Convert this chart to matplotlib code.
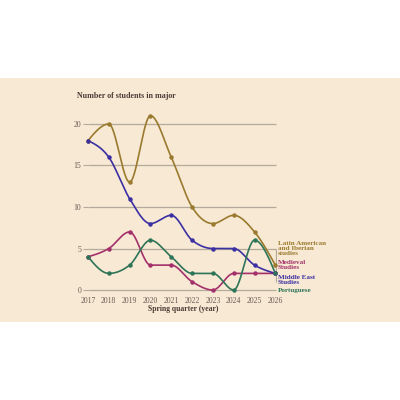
import numpy as np
import matplotlib.pyplot as plt

years = np.arange(2017, 2027)
latin_american = [18, 20, 13, 21, 16, 10, 8, 9, 7, 3]
middle_east = [18, 16, 11, 8, 9, 6, 5, 5, 3, 2]
medieval = [4, 5, 7, 3, 3, 1, 0, 2, 2, 2]
portuguese = [4, 2, 3, 6, 4, 2, 2, 0, 6, 2]

series = [
    ("Latin American\nand Iberian\nstudies", latin_american, "#9a7a2e"),
    ("Medieval\nStudies", medieval, "#a3306b"),
    ("Middle East\nStudies", middle_east, "#3b2fa3"),
    ("Portuguese", portuguese, "#2e7458"),
]


def monotone_curve(x, y, n=30):
    # monotone cubic through the points (same idea as d3.curveMonotoneX)
    x = np.asarray(x, float)
    y = np.asarray(y, float)
    h = np.diff(x)
    s = np.diff(y) / h
    m = np.zeros_like(y)
    for i in range(1, len(y) - 1):
        p = (s[i - 1] * h[i] + s[i] * h[i - 1]) / (h[i - 1] + h[i])
        m[i] = (np.sign(s[i - 1]) + np.sign(s[i])) * min(abs(s[i - 1]), abs(s[i]), 0.5 * abs(p))
    m[0] = (3 * s[0] - m[1]) / 2
    m[-1] = (3 * s[-1] - m[-2]) / 2
    xs, ys = [], []
    t = np.linspace(0, 1, n)
    for i in range(len(h)):
        h00 = 2 * t ** 3 - 3 * t ** 2 + 1
        h10 = t ** 3 - 2 * t ** 2 + t
        h01 = -2 * t ** 3 + 3 * t ** 2
        h11 = t ** 3 - t ** 2
        xs.append(x[i] + t * h[i])
        ys.append(h00 * y[i] + h10 * h[i] * m[i] + h01 * y[i + 1] + h11 * h[i] * m[i + 1])
    return np.concatenate(xs), np.concatenate(ys)


plt.rcParams['font.family'] = ['Liberation Serif', 'DejaVu Serif']
bg = "#f7e9d3"
text_col = "#4a3a36"
tick_col = "#6b5a55"

fig = plt.figure(figsize=(4, 4), dpi=100)
fig.patch.set_facecolor("white")
fig.patches.append(plt.Rectangle((0, (400 - 322) / 400), 1, 244 / 400,
                                 transform=fig.transFigure, facecolor=bg,
                                 edgecolor="none", zorder=-10))

ax = fig.add_axes([0.22, 0.2646, 0.4725, 0.4566])
ax.set_facecolor("none")
ax.set_xlim(2017, 2026.08)
ax.set_ylim(-0.5, 21.5)

for g in [0, 5, 10, 15, 20]:
    ax.hlines(g, 2017, 2026.03, color="#b3aa9c", lw=0.9, zorder=1)
ax.vlines(2026.03, 1, 5, color="#b3aa9c", lw=0.9, zorder=1)

for label, vals, col in series:
    sx, sy = monotone_curve(years, vals)
    ax.plot(sx, sy, color=col, lw=1.2, zorder=3, clip_on=False)
    ax.plot(years, vals, "o", color=col, ms=2.2, zorder=4, clip_on=False)

for s in ax.spines.values():
    s.set_visible(False)

ax.set_yticks([0, 5, 10, 15, 20])
ax.set_xticks(years)
ax.tick_params(axis="y", length=3.5, width=0.8, color="#b3aa9c", pad=1.5,
               labelsize=5.6, labelcolor=tick_col)
ax.tick_params(axis="x", length=0, pad=2, labelsize=5.6, labelcolor=tick_col)

# end labels, one text per line, tight line pitch like the original
label_base = [5.42, 3.1, 1.36, -0.24]
for (label, vals, col), ly in zip(series, label_base):
    for k, line in enumerate(label.split("\n")):
        ax.annotate(line, xy=(2026.13, ly), xytext=(0, -3.45 * k),
                    textcoords="offset points", color=col, fontsize=5.1,
                    fontweight="bold", va="baseline", ha="left",
                    annotation_clip=False)

fig.text(77 / 400, 1 - 96 / 400, "Number of students in major",
         fontsize=5.7, fontweight="bold", color=text_col, va="center")
fig.text(183 / 400, 1 - 309 / 400, "Spring quarter (year)",
         fontsize=5.5, fontweight="bold", color=text_col, ha="center", va="center")

fig.savefig("out.png", dpi=100)
